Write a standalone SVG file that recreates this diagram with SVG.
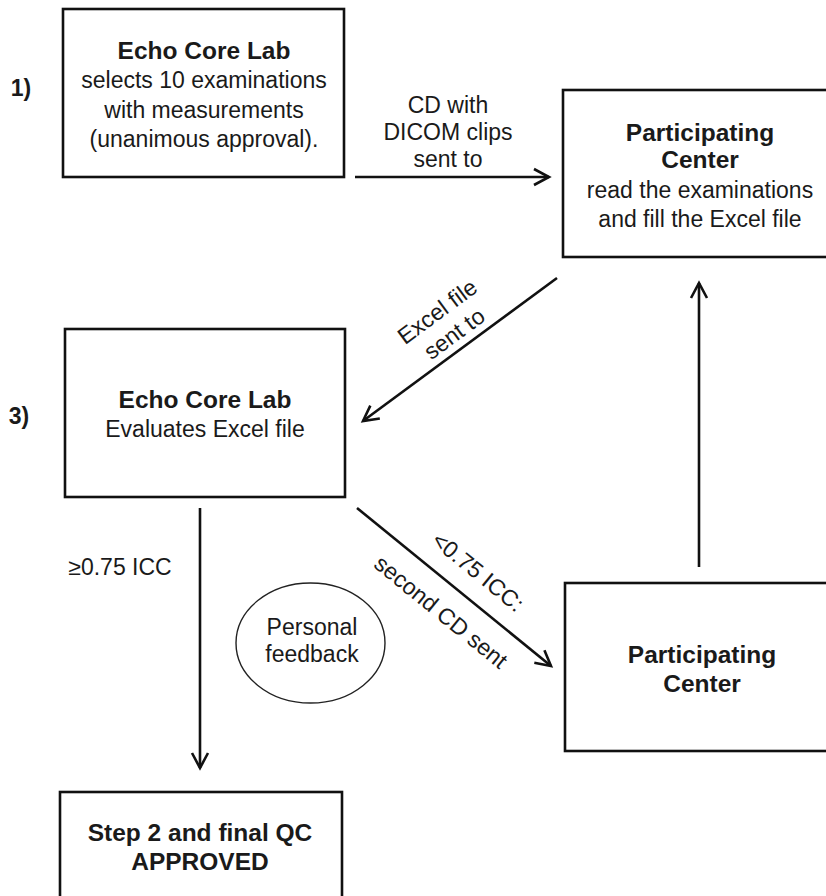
<svg xmlns="http://www.w3.org/2000/svg" width="826" height="896" viewBox="0 0 826 896">
<defs>
<style>
.box{fill:#fff;stroke:#111;stroke-width:2.6}
.t{font-family:"Liberation Sans",Arial,sans-serif;font-size:23px;fill:#1a1a1a;text-anchor:middle}
.b{font-family:"Liberation Sans",Arial,sans-serif;font-size:24.5px;font-weight:bold;fill:#1a1a1a;text-anchor:middle}
.c{fill:none;stroke:#111;stroke-width:2.6}
</style>
<marker id="ah" markerUnits="userSpaceOnUse" orient="auto" markerWidth="20" markerHeight="20" viewBox="-17 -10 20 20" refX="0" refY="0">
<path d="M-15,-8 L0,0 L-15,8" fill="none" stroke="#111" stroke-width="2.6" stroke-linejoin="miter"/>
</marker>
</defs>
<rect width="826" height="896" fill="#fff"/>
<g id="step-labels">
<text class="b" x="21" y="96" style="font-size:23px">1)</text>
<text class="b" x="19" y="424" style="font-size:23px">3)</text>
</g>
<g id="connectors">
<line class="c" x1="355" y1="177" x2="549" y2="177" marker-end="url(#ah)"/>
<line class="c" x1="557" y1="278" x2="363" y2="421" marker-end="url(#ah)"/>
<line class="c" x1="200" y1="508" x2="200" y2="768" marker-end="url(#ah)"/>
<line class="c" x1="357" y1="508" x2="551" y2="666" marker-end="url(#ah)"/>
<line class="c" x1="699" y1="567" x2="699" y2="283" marker-end="url(#ah)"/>
<text class="t" x="448" y="113">CD with</text>
<text class="t" x="448" y="140">DICOM clips</text>
<text class="t" x="448" y="167">sent to</text>
<text class="t" transform="translate(442 318) rotate(-36.4)">Excel file</text>
<text class="t" transform="translate(459 340) rotate(-36.4)">sent to</text>
<text class="t" x="120" y="575">≥0.75 ICC</text>
<text class="t" transform="translate(473 578) rotate(39.2)">&lt;0.75 ICC:</text>
<text class="t" transform="translate(436 618) rotate(39.2)">second CD sent</text>
</g>
<g id="echo-core-lab-1">
<rect class="box" x="63" y="9" width="281" height="168"/>
<text class="b" x="204" y="59">Echo Core Lab</text>
<text class="t" x="204" y="88">selects 10 examinations</text>
<text class="t" x="204" y="118">with measurements</text>
<text class="t" x="204" y="147">(unanimous approval).</text>
</g>
<g id="participating-center-1">
<rect class="box" x="563" y="90" width="270" height="167"/>
<text class="b" x="700" y="141">Participating</text>
<text class="b" x="700" y="168">Center</text>
<text class="t" x="700" y="198">read the examinations</text>
<text class="t" x="700" y="227">and fill the Excel file</text>
</g>
<g id="echo-core-lab-3">
<rect class="box" x="65" y="329" width="280" height="168"/>
<text class="b" x="205" y="408">Echo Core Lab</text>
<text class="t" x="205" y="437">Evaluates Excel file</text>
</g>
<g id="participating-center-2">
<rect class="box" x="565" y="583" width="270" height="168"/>
<text class="b" x="702" y="663">Participating</text>
<text class="b" x="702" y="692">Center</text>
</g>
<g id="personal-feedback">
<ellipse cx="310.5" cy="643" rx="74.5" ry="60" fill="#fff" stroke="#222" stroke-width="1.4"/>
<text class="t" x="312" y="635">Personal</text>
<text class="t" x="312" y="662">feedback</text>
</g>
<g id="approved">
<rect class="box" x="60" y="792" width="282" height="110"/>
<text class="b" x="200" y="841">Step 2 and final QC</text>
<text class="b" x="200" y="870">APPROVED</text>
</g>
</svg>
